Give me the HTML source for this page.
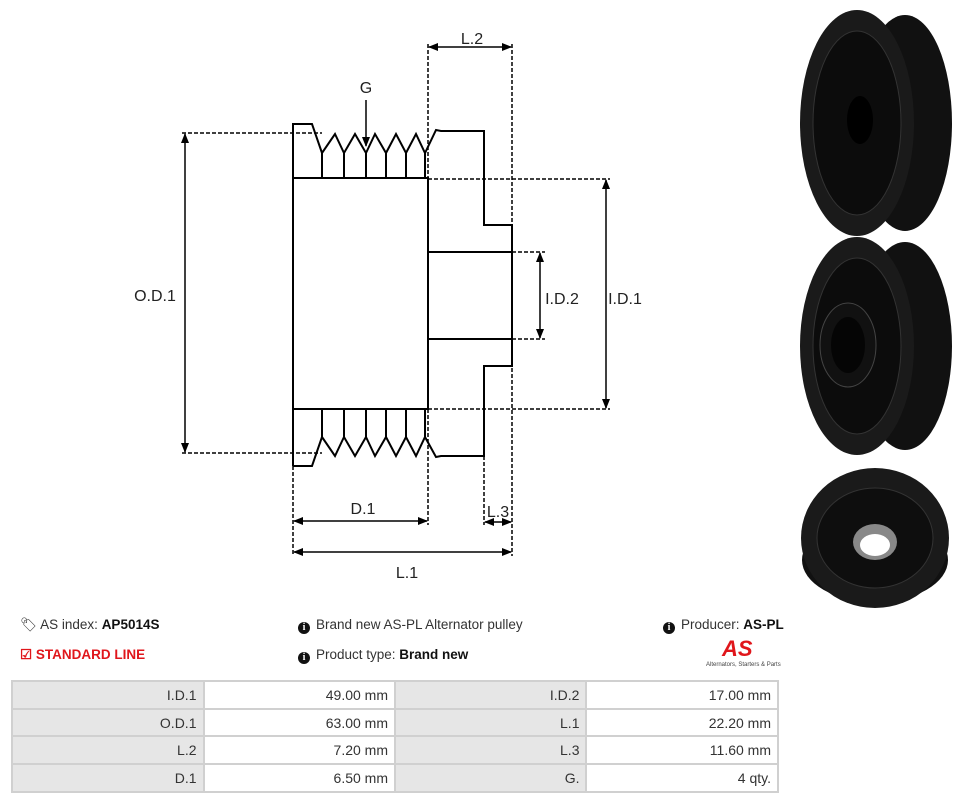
<!DOCTYPE html>
<html><head><meta charset="utf-8"><style>
body{margin:0;width:962px;height:802px;background:#fff;font-family:"Liberation Sans",sans-serif;position:relative;overflow:hidden}
.t{position:absolute;font-size:13.5px;color:#333;white-space:nowrap}
b{color:#111}
table{position:absolute;left:11px;top:680px;border-collapse:collapse;width:768px}
td{border:2px solid #d0d0d0;height:25.7px;padding:0 6px 0 0;text-align:right;font-size:14px;color:#333;width:184px}
td.g{background:#e6e6e6}
.ic{display:inline-block;width:12px;height:12px;border-radius:50%;background:#111;color:#fff;font-size:10px;font-weight:bold;text-align:center;line-height:12px;font-family:"Liberation Serif",serif;margin-right:6px;vertical-align:-1px}
</style></head><body>
<svg width="962" height="610" style="position:absolute;left:0;top:0" font-family="Liberation Sans, sans-serif" font-size="16" fill="none">
<defs><marker id="a" markerWidth="10" markerHeight="10" refX="9" refY="5" orient="auto-start-reverse" markerUnits="userSpaceOnUse"><path d="M0,1 L10,5 L0,9 z" fill="#000"/></marker></defs>
<g stroke="#000" stroke-width="2">
<path d="M293,466 V124 H312 L322,153 L335,134 L344,153 L355,134 L366,153 L375,134 L386,153 L396,134 L406,153 L416,134 L425,153 L436,130 L441,131 H484 V225 H512 V366 H484 V456 H441 L436,457 L425,437 L416,456 L406,437 L396,456 L386,437 L375,456 L366,437 L355,456 L344,437 L335,456 L322,437 L312,466 H293"/>
<rect x="293" y="178" width="135" height="231"/>
<rect x="428" y="252" width="84" height="87"/>
<path d="M322,153V178M344,153V178M366,153V178M386,153V178M406,153V178M425,153V178M322,409V437M344,409V437M366,409V437M386,409V437M406,409V437M425,409V437"/>
</g>
<g stroke="#000" stroke-width="1.5" stroke-dasharray="4,2">
<path d="M182,133H322M182,453H322M428,179H610M428,409H610M512,252H545M512,339H545M428,44V178M512,44V556M293,466V556M428,409V525M484,456V525"/>
</g>
<g stroke="#000" stroke-width="1.5" marker-start="url(#a)" marker-end="url(#a)">
<line x1="185" y1="134" x2="185" y2="452"/>
<line x1="606" y1="180" x2="606" y2="408"/>
<line x1="540" y1="253" x2="540" y2="338"/>
<line x1="429" y1="47" x2="511" y2="47"/>
<line x1="294" y1="521" x2="427" y2="521"/>
<line x1="485" y1="522" x2="511" y2="522"/>
<line x1="294" y1="552" x2="511" y2="552"/>
</g>
<line x1="366" y1="100" x2="366" y2="146" stroke="#000" stroke-width="1.5" marker-end="url(#a)"/>
<g fill="#222">
<text x="366" y="93" text-anchor="middle">G</text>
<text x="472" y="44" text-anchor="middle">L.2</text>
<text x="155" y="301" text-anchor="middle">O.D.1</text>
<text x="562" y="304" text-anchor="middle">I.D.2</text>
<text x="625" y="304" text-anchor="middle">I.D.1</text>
<text x="363" y="514" text-anchor="middle">D.1</text>
<text x="498" y="517" text-anchor="middle">L.3</text>
<text x="407" y="578" text-anchor="middle">L.1</text>
</g>
<ellipse cx="905" cy="123" rx="47" ry="108" fill="#111"/>
<ellipse cx="857" cy="123" rx="57" ry="113" fill="#1a1a1a"/>
<ellipse cx="857" cy="123" rx="44" ry="92" fill="#0c0c0c" stroke="#333"/>
<ellipse cx="860" cy="120" rx="13" ry="24" fill="#000"/>
<ellipse cx="905" cy="346" rx="47" ry="104" fill="#111"/>
<ellipse cx="857" cy="346" rx="57" ry="109" fill="#1a1a1a"/>
<ellipse cx="857" cy="346" rx="44" ry="88" fill="#0c0c0c" stroke="#333"/>
<ellipse cx="848" cy="345" rx="28" ry="42" fill="#111" stroke="#444"/>
<ellipse cx="848" cy="345" rx="17" ry="28" fill="#050505"/>
<ellipse cx="875" cy="560" rx="73" ry="42" fill="#111"/>
<ellipse cx="875" cy="538" rx="74" ry="70" fill="#1a1a1a"/>
<ellipse cx="875" cy="538" rx="58" ry="50" fill="#0e0e0e" stroke="#333"/>
<ellipse cx="875" cy="542" rx="22" ry="18" fill="#888"/>
<ellipse cx="875" cy="545" rx="15" ry="11" fill="#fff"/>
</svg>
<div class="t" style="left:20px;top:617px">🏷&#xFE0E; AS index: <b>AP5014S</b></div>
<div class="t" style="left:20px;top:647px;color:#e0161b;font-weight:bold">☑ STANDARD LINE</div>
<div class="t" style="left:298px;top:617px"><span class="ic">i</span>Brand new AS-PL Alternator pulley</div>
<div class="t" style="left:298px;top:647px"><span class="ic">i</span>Product type: <b>Brand new</b></div>
<div class="t" style="left:663px;top:617px"><span class="ic">i</span>Producer: <b>AS-PL</b></div>
<div class="t" style="left:722px;top:636px;color:#e0161b;font-weight:bold;font-style:italic;font-size:22px">AS</div>
<div class="t" style="left:706px;top:662px;font-size:6px;color:#444">Alternators, Starters &amp; Parts</div>
<table>
<tr><td class="g">I.D.1</td><td>49.00 mm</td><td class="g">I.D.2</td><td>17.00 mm</td></tr>
<tr><td class="g">O.D.1</td><td>63.00 mm</td><td class="g">L.1</td><td>22.20 mm</td></tr>
<tr><td class="g">L.2</td><td>7.20 mm</td><td class="g">L.3</td><td>11.60 mm</td></tr>
<tr><td class="g">D.1</td><td>6.50 mm</td><td class="g">G.</td><td>4 qty.</td></tr>
</table>
</body></html>
